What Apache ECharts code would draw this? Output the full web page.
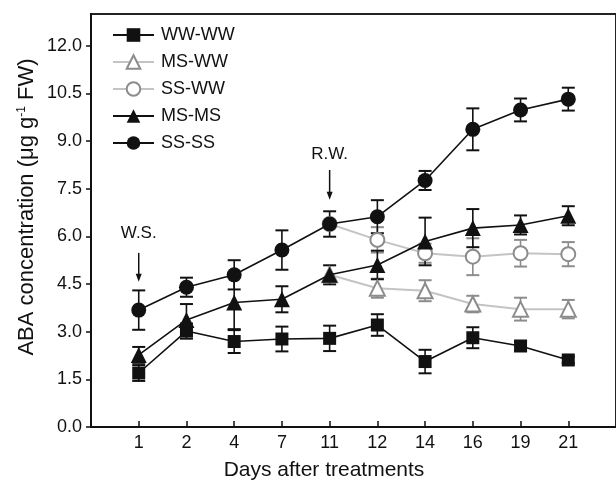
<!DOCTYPE html>
<html>
<head>
<meta charset="utf-8">
<script src="https://cdn.jsdelivr.net/npm/echarts@6/dist/echarts.min.js"></script>
<style>
  html, body { margin: 0; padding: 0; background: #fff; }
  #chart { width: 616px; height: 481px; }
</style>
</head>
<body>
<div id="chart"></div>
<script>
// days after treatments (category labels, placed at positions 1..10)
const days = ['1', '2', '4', '7', '11', '12', '14', '16', '19', '21'];
const yTicks = [0, 1.5, 3, 4.5, 6, 7.5, 9, 10.5, 12];

// ABA concentration, mean and error
const wwWW     = [1.70, 3.02, 2.69, 2.77, 2.79, 3.21, 2.06, 2.81, 2.55, 2.11];
const wwWWErr  = [0.25, 0.24, 0.36, 0.39, 0.40, 0.34, 0.37, 0.33, 0.15, 0.10];
const msWW     = [null, null, null, null, 4.79, 4.37, 4.29, 3.87, 3.71, 3.71];
const msWWErr  = [0, 0, 0, 0, 0, 0.30, 0.33, 0.26, 0.36, 0.29];
const ssWW     = [null, null, null, null, 6.39, 5.89, 5.47, 5.36, 5.47, 5.44];
const ssWWErr  = [0, 0, 0, 0, 0, 0.40, 0.30, 0.58, 0.42, 0.38];
const msMS     = [2.27, 3.37, 3.92, 4.02, 4.79, 5.10, 5.84, 6.26, 6.36, 6.65];
const msMSErr  = [0.25, 0.50, 0.84, 0.41, 0.30, 0.45, 0.75, 0.60, 0.30, 0.30];
const ssSS     = [3.68, 4.40, 4.79, 5.57, 6.39, 6.62, 7.76, 9.37, 9.98, 10.32];
const ssSSErr  = [0.62, 0.30, 0.46, 0.62, 0.40, 0.52, 0.30, 0.66, 0.36, 0.36];

const FONT = '"Liberation Sans", Arial, sans-serif';
const BLACK = '#111';
const GRAY_LINE = '#c4c4c4';
const GRAY_MARK = '#8c8c8c';

function toPoints(vals) {
    return vals.map((v, i) => [i + 1, v]);
}

function lineSeries(name, vals, symbol, size, open) {
    return {
        name: name,
        type: 'line',
        data: toPoints(vals),
        symbol: symbol,
        symbolSize: size,
        showAllSymbol: true,
        connectNulls: false,
        z: open ? 3 : 4,
        lineStyle: { color: open ? GRAY_LINE : BLACK, width: open ? 2 : 1.6 },
        itemStyle: open
            ? { color: '#fff', borderColor: GRAY_MARK, borderWidth: 2 }
            : { color: BLACK, borderColor: BLACK, borderWidth: 0 },
        emphasis: { disabled: true },
        animation: false
    };
}

function errorBars(vals, errs, color) {
    const data = [];
    vals.forEach((v, i) => {
        if (v != null && errs[i] > 0) data.push([i + 1, v - errs[i], v + errs[i]]);
    });
    return {
        type: 'custom',
        silent: true,
        z: 2,
        encode: { x: 0, y: [1, 2] },
        renderItem: function (params, api) {
            const lo = api.coord([api.value(0), api.value(1)]);
            const hi = api.coord([api.value(0), api.value(2)]);
            const w = 6.5;
            return {
                type: 'group',
                children: [
                    { type: 'line', shape: { x1: lo[0], y1: lo[1], x2: hi[0], y2: hi[1] }, style: { stroke: color, lineWidth: 1.6 } },
                    { type: 'line', shape: { x1: lo[0] - w, y1: lo[1], x2: lo[0] + w, y2: lo[1] }, style: { stroke: color, lineWidth: 2 } },
                    { type: 'line', shape: { x1: hi[0] - w, y1: hi[1], x2: hi[0] + w, y2: hi[1] }, style: { stroke: color, lineWidth: 2 } }
                ]
            };
        },
        data: data,
        animation: false
    };
}

const chart = echarts.init(document.getElementById('chart'));

const option = {
    backgroundColor: '#fff',
    animation: false,
    textStyle: { fontFamily: FONT },
    grid: {
        left: 91, top: 14, width: 533.5, height: 413,
        show: true, borderColor: '#222', borderWidth: 2, backgroundColor: 'transparent'
    },
    legend: {
        orient: 'vertical',
        left: 112, top: 26, padding: 0,
        itemWidth: 41, itemHeight: 17, itemGap: 9,
        data: ['WW-WW', 'MS-WW', 'SS-WW', 'MS-MS', 'SS-SS'],
        textStyle: { fontFamily: FONT, fontSize: 18, color: '#111', padding: [0, 0, 0, 2] },
        selectedMode: false
    },
    xAxis: {
        type: 'value', min: 0, max: 11, interval: 1,
        axisLine: { lineStyle: { color: '#111', width: 2 } },
        axisTick: { inside: true, length: 6, lineStyle: { color: '#111', width: 1.5 }, customValues: [1, 2, 3, 4, 5, 6, 7, 8, 9, 10] },
        axisLabel: {
            customValues: [1, 2, 3, 4, 5, 6, 7, 8, 9, 10],
            formatter: v => days[v - 1] || '',
            fontFamily: FONT, fontSize: 18, color: '#111', margin: 7
        },
        splitLine: { show: false }
    },
    yAxis: {
        type: 'value', min: 0, max: 13, interval: 1.5,
        axisLine: { show: true, lineStyle: { color: '#111', width: 2 } },
        axisTick: { show: true, length: 5, lineStyle: { color: '#111', width: 1.5 }, customValues: yTicks },
        axisLabel: {
            customValues: yTicks,
            formatter: v => v.toFixed(1),
            fontFamily: FONT, fontSize: 18, color: '#111', margin: 9
        },
        splitLine: { show: false }
    },
    series: [
        errorBars(wwWW, wwWWErr, BLACK),
        errorBars(msWW, msWWErr, GRAY_MARK),
        errorBars(ssWW, ssWWErr, GRAY_MARK),
        errorBars(msMS, msMSErr, BLACK),
        errorBars(ssSS, ssSSErr, BLACK),
        lineSeries('WW-WW', wwWW, 'rect', 13, false),
        lineSeries('MS-WW', msWW, 'triangle', 15, true),
        lineSeries('SS-WW', ssWW, 'circle', 14, true),
        lineSeries('MS-MS', msMS, 'triangle', 16, false),
        lineSeries('SS-SS', ssSS, 'circle', 15, false)
    ]
};

chart.setOption(option);

// annotations: water stress (W.S.) and re-watering (R.W.) arrows
function arrow(xPos, yText, yTop, yTip, label) {
    const t = chart.convertToPixel({ gridIndex: 0 }, [xPos, yText]);
    const a = chart.convertToPixel({ gridIndex: 0 }, [xPos, yTop]);
    const b = chart.convertToPixel({ gridIndex: 0 }, [xPos, yTip]);
    return [
        { type: 'text', x: t[0], y: t[1], style: { text: label, font: '17px ' + FONT, fill: '#111', align: 'center', verticalAlign: 'middle' } },
        { type: 'line', shape: { x1: a[0], y1: a[1], x2: b[0], y2: b[1] - 6 }, style: { stroke: '#111', lineWidth: 1.5 } },
        { type: 'polygon', shape: { points: [[b[0] - 3, b[1] - 8], [b[0] + 3, b[1] - 8], [b[0], b[1]]] }, style: { fill: '#111' } }
    ];
}

const graphics = [].concat(
    arrow(1, 6.11, 5.48, 4.57, 'W.S.'),
    arrow(5, 8.57, 8.09, 7.15, 'R.W.'),
    [
        { type: 'text', x: 324, y: 470, style: { text: 'Days after treatments', font: '21px ' + FONT, fill: '#111', align: 'center', verticalAlign: 'middle' } },
        {
            type: 'text', x: 27, y: 207, rotation: Math.PI / 2,
            style: {
                text: '{n|ABA concentration (μg g}{s|-1}{n| FW)}',
                align: 'center', verticalAlign: 'middle',
                rich: {
                    n: { fill: '#111', fontSize: 22, fontFamily: FONT },
                    s: { fontSize: 12, fontFamily: FONT, fill: '#111', verticalAlign: 'top', padding: [0, 0, 10, 0] }
                }
            }
        }
    ]
);

chart.setOption({ graphic: graphics });
</script>
</body>
</html>
